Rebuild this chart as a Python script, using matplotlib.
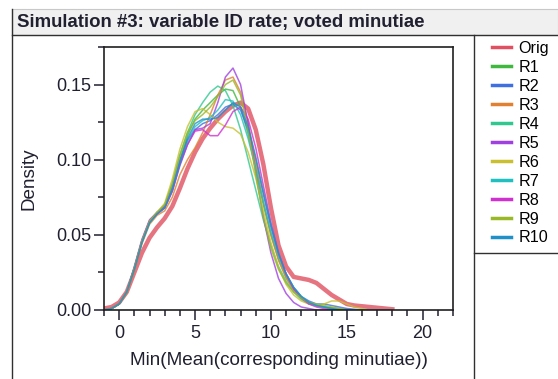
import numpy as np
import matplotlib
matplotlib.use("Agg")
import matplotlib.pyplot as plt
from matplotlib.lines import Line2D
from matplotlib.patches import Rectangle

plt.rcParams['font.family'] = ['Liberation Sans', 'DejaVu Sans']

# sample positions of the density curves
xs = [-1, -0.5, 0, 0.5, 1, 1.5, 2, 2.5, 3, 3.5, 4, 4.5, 5, 5.5, 6, 6.5, 7, 7.5, 8, 8.5,
      9, 9.5, 10, 10.5, 11, 11.5, 12, 12.5, 13, 13.5, 14, 14.5, 15, 15.5, 16, 16.5, 17, 17.5, 18]

orig = [0.001, 0.002, 0.005, 0.012, 0.025, 0.038, 0.048, 0.055, 0.061, 0.069, 0.081, 0.094, 0.105, 0.114,
        0.121, 0.127, 0.132, 0.136, 0.138, 0.134, 0.120, 0.097, 0.068, 0.043, 0.029, 0.022, 0.021, 0.020,
        0.018, 0.014, 0.010, 0.007, 0.004, 0.003, 0.0025, 0.002, 0.0015, 0.001, 0.0005]
r1 = [0.000, 0.001, 0.004, 0.012, 0.028, 0.046, 0.059, 0.065, 0.069, 0.082, 0.100, 0.116, 0.127, 0.133,
      0.138, 0.143, 0.147, 0.146, 0.135, 0.117, 0.094, 0.070, 0.050, 0.034, 0.022, 0.014, 0.008, 0.005,
      0.003, 0.002, 0.0015, 0.001, 0.0005, 0, 0, 0, 0, 0, 0]
r2 = [0.000, 0.001, 0.004, 0.012, 0.027, 0.045, 0.058, 0.064, 0.068, 0.079, 0.096, 0.110, 0.120, 0.124,
      0.126, 0.130, 0.135, 0.137, 0.133, 0.120, 0.100, 0.077, 0.055, 0.037, 0.024, 0.015, 0.009, 0.006,
      0.004, 0.004, 0.003, 0.002, 0.001, 0.0005, 0, 0, 0, 0, 0]
r3 = [0.000, 0.001, 0.004, 0.011, 0.026, 0.044, 0.057, 0.063, 0.066, 0.075, 0.090, 0.100, 0.108, 0.118,
      0.130, 0.143, 0.153, 0.155, 0.145, 0.124, 0.098, 0.072, 0.050, 0.033, 0.021, 0.013, 0.008, 0.005,
      0.003, 0.002, 0.001, 0.0005, 0, 0, 0, 0, 0, 0, 0]
r4 = [0.000, 0.001, 0.004, 0.012, 0.028, 0.046, 0.059, 0.065, 0.070, 0.084, 0.103, 0.118, 0.130, 0.138,
      0.145, 0.149, 0.146, 0.136, 0.120, 0.100, 0.080, 0.060, 0.043, 0.029, 0.019, 0.012, 0.007, 0.004,
      0.003, 0.002, 0.001, 0.0005, 0, 0, 0, 0, 0, 0, 0]
r5 = [0.000, 0.001, 0.004, 0.012, 0.029, 0.047, 0.060, 0.065, 0.069, 0.081, 0.099, 0.113, 0.120, 0.121,
      0.124, 0.138, 0.155, 0.161, 0.150, 0.124, 0.092, 0.062, 0.038, 0.021, 0.011, 0.005, 0.002, 0.001,
      0, 0, 0, 0, 0, 0, 0, 0, 0, 0, 0]
r6 = [0.000, 0.001, 0.004, 0.012, 0.028, 0.046, 0.059, 0.065, 0.071, 0.087, 0.107, 0.122, 0.132, 0.134,
      0.130, 0.125, 0.122, 0.121, 0.117, 0.105, 0.088, 0.066, 0.045, 0.028, 0.017, 0.010, 0.006, 0.004,
      0.003, 0.004, 0.006, 0.006, 0.004, 0.002, 0.001, 0, 0, 0, 0]
r7 = [0.000, 0.001, 0.004, 0.012, 0.028, 0.045, 0.058, 0.064, 0.068, 0.080, 0.098, 0.112, 0.122, 0.126,
      0.128, 0.133, 0.140, 0.139, 0.130, 0.114, 0.094, 0.072, 0.052, 0.036, 0.024, 0.015, 0.009, 0.005,
      0.003, 0.002, 0.001, 0.0005, 0, 0, 0, 0, 0, 0, 0]
r8 = [0.000, 0.001, 0.004, 0.012, 0.028, 0.046, 0.059, 0.064, 0.068, 0.079, 0.097, 0.110, 0.119, 0.120,
      0.116, 0.116, 0.123, 0.132, 0.135, 0.127, 0.108, 0.083, 0.058, 0.038, 0.024, 0.014, 0.008, 0.004,
      0.002, 0.001, 0, 0, 0, 0, 0, 0, 0, 0, 0]
r9 = [0.000, 0.001, 0.004, 0.012, 0.028, 0.046, 0.059, 0.065, 0.070, 0.084, 0.103, 0.118, 0.126, 0.130,
      0.135, 0.142, 0.150, 0.153, 0.143, 0.120, 0.090, 0.062, 0.041, 0.027, 0.018, 0.012, 0.008, 0.005,
      0.004, 0.003, 0.002, 0.001, 0, 0, 0, 0, 0, 0, 0]
r10 = [0.000, 0.001, 0.004, 0.012, 0.027, 0.045, 0.058, 0.064, 0.068, 0.080, 0.098, 0.114, 0.124, 0.127,
       0.127, 0.128, 0.133, 0.138, 0.135, 0.122, 0.102, 0.079, 0.057, 0.038, 0.024, 0.015, 0.009, 0.005,
       0.003, 0.002, 0.001, 0, 0, 0, 0, 0, 0, 0, 0]

names = ['Orig', 'R1', 'R2', 'R3', 'R4', 'R5', 'R6', 'R7', 'R8', 'R9', 'R10']
series = [orig, r1, r2, r3, r4, r5, r6, r7, r8, r9, r10]
colors = ['#e05060', '#40b840', '#4070e0', '#e08030', '#30c890', '#a040e0',
          '#c8c030', '#20c0c0', '#d030d0', '#98b828', '#2090c8']

W, H = 558, 379
fig = plt.figure(figsize=(W / 100, H / 100), dpi=100)

def fx(px):
    return px / W

def fy(py):
    return 1 - py / H

# title bar and frame
fig.add_artist(Rectangle((fx(12), fy(35)), fx(558) - fx(12), fy(9) - fy(35),
                         facecolor='#f0f0f0', edgecolor='#c8c8c8', lw=0.8, transform=fig.transFigure))
fig.text(fx(17), fy(22), 'Simulation #3: variable ID rate; voted minutiae',
         fontsize=13.4, fontweight='bold', color='#202030', va='center', ha='left')
frame_col = '#303030'
fig.add_artist(Line2D([fx(12), fx(12)], [fy(9), fy(379)], color=frame_col, lw=1))
fig.add_artist(Line2D([fx(12), fx(558)], [fy(35), fy(35)], color=frame_col, lw=1))
fig.add_artist(Line2D([fx(474), fx(474)], [fy(35), fy(379)], color=frame_col, lw=1))
fig.add_artist(Line2D([fx(474), fx(558)], [fy(253), fy(253)], color=frame_col, lw=1))

ax = fig.add_axes([fx(104), fy(310), fx(453) - fx(104), fy(47) - fy(310)])

for name, ys, c in zip(names[1:], series[1:], colors[1:]):
    ax.plot(xs, ys, color=c, lw=1.1, alpha=0.8, solid_joinstyle='round')
ax.plot(xs, orig, color=colors[0], lw=3.2, alpha=0.8, solid_joinstyle='round', zorder=1.5)

ax.set_xlim(-1, 22)
ax.set_ylim(0, 0.175)
ax.set_xticks([0, 5, 10, 15, 20])
ax.set_xticks(np.arange(-1, 23, 1), minor=True)
ax.set_yticks([0, 0.05, 0.10, 0.15])
ax.set_yticks([0.025, 0.075, 0.125, 0.175], minor=True)
ax.set_yticklabels(['0.00', '0.05', '0.10', '0.15'])
ax.tick_params(which='major', direction='out', length=7, width=1.1, labelsize=13, colors='#202030', pad=4)
ax.tick_params(axis='y', which='major', pad=2)
ax.tick_params(which='minor', direction='out', length=4, width=1.1, colors='#202030')
for s in ax.spines.values():
    s.set_linewidth(1.2)
    s.set_color('#202020')

ax.set_xlabel('Min(Mean(corresponding minutiae))', fontsize=13.6, color='#202030')
ax.set_ylabel('Density', fontsize=13.6, color='#202030')
ax.xaxis.set_label_coords(0.5, -0.16)
ax.yaxis.set_label_coords(-0.19, 0.5)

handles = [Line2D([], [], color=c, lw=2.5) for c in colors]
fig.legend(handles, names, loc='upper left', bbox_to_anchor=(fx(492), fy(41)),
           frameon=False, fontsize=11.6, handlelength=1.15, handletextpad=0.5,
           labelspacing=0.245, borderpad=0, borderaxespad=0)

fig.savefig('out.png', dpi=100)
